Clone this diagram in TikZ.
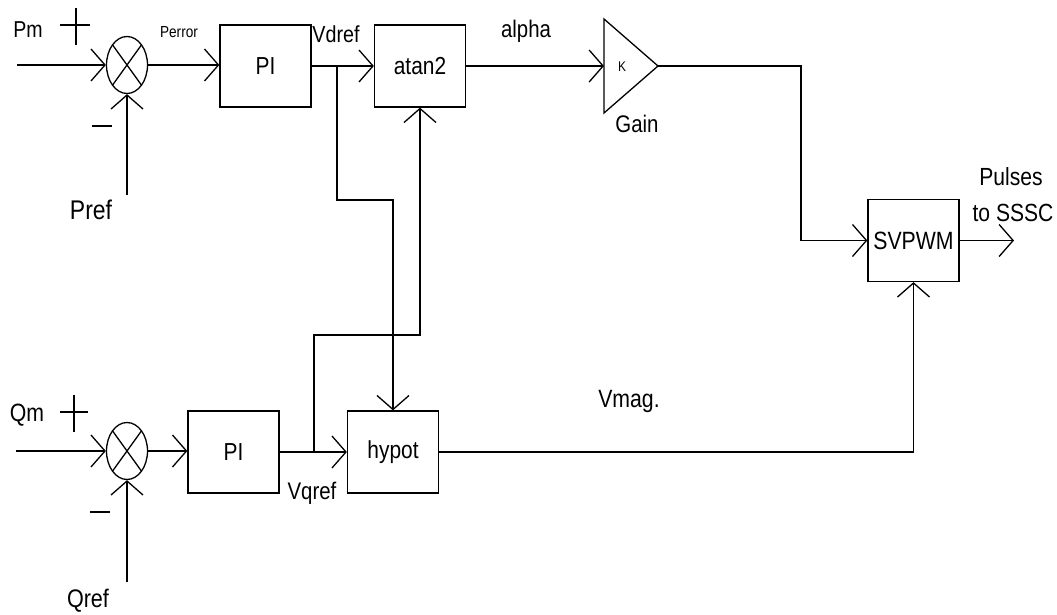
\documentclass[tikz,border=0pt]{standalone}
\usepackage{fontspec}
\setmainfont{Liberation Sans}[FakeStretch=0.85]
\usetikzlibrary{arrows.meta,shapes.geometric}

\begin{document}
\begin{tikzpicture}[
    x=0.5pt, y=-0.5pt, line width=0.65pt,
    sig/.style={-{Straight Barb[length=7pt,width=16pt]}},
    blk/.style={draw, minimum width=45.5pt, minimum height=41pt, inner sep=0pt, font=\fontsize{12.3}{14}\selectfont},
    sumj/.style={ellipse, draw, minimum width=20.5pt, minimum height=28.5pt, inner sep=0pt,
        path picture={\draw (path picture bounding box.north west) -- (path picture bounding box.south east)
            (path picture bounding box.north east) -- (path picture bounding box.south west);}},
    lbl/.style={anchor=base, inner sep=0pt, font=\fontsize{12}{14}\selectfont}
]
    \useasboundingbox (0,0) rectangle (1057,615);

    % P loop
    \node[sumj] (sum1) at (127,65) {};
    \node[blk] (pi1) at (265.5,66) {PI};
    \node[blk] (atan) at (420,66) {atan2};
    \coordinate (pmIn) at (17,65);
    \coordinate (prefIn) at (127,195);
    \coordinate (vdTap) at (337,66);
    \coordinate (vdBend) at (337,200);
    \draw[sig] (pmIn) -- (sum1.west);
    \draw[sig] (prefIn) -- (sum1.south);
    \draw[sig] (sum1.east) -- (sum1.east -| pi1.west);
    \draw[sig] (pi1.east) -- (atan.west);
    \draw (60,25) -- (90,25) (76,8) -- (76,45);
    \draw (92,126) -- (112,126);
    \node[lbl, font=\fontsize{11.5}{13}\selectfont] (pmLbl) at (28,38) {Pm};
    \node[lbl, font=\fontsize{8}{9}\selectfont] (perLbl) at (179,38) {Perror};
    \node[lbl, font=\fontsize{13.5}{15}\selectfont] (prefLbl) at (91,220) {Pref};
    \node[lbl, font=\fontsize{11.6}{13}\selectfont] (vdLbl) at (336,43) {Vdref};

    % Q loop
    \node[sumj] (sum2) at (127,451) {};
    \node[blk] (pi2) at (233.5,452) {PI};
    \node[blk] (hyp) at (393,452) {hypot};
    \coordinate (qmIn) at (16,451);
    \coordinate (qrefIn) at (127,582);
    \coordinate (vqTap) at (314,452);
    \coordinate (vqBend) at (314,335);
    \draw[sig] (qmIn) -- (sum2.west);
    \draw[sig] (qrefIn) -- (sum2.south);
    \draw[sig] (sum2.east) -- (sum2.east -| pi2.west);
    \draw[sig] (pi2.east) -- (hyp.west);
    \draw (60,412) -- (88,412) (74,395) -- (74,432);
    \draw (90,512) -- (110,512);
    \node[lbl, font=\fontsize{12.5}{14}\selectfont] (qmLbl) at (27,422) {Qm};
    \node[lbl, font=\fontsize{12.7}{14}\selectfont] (qrefLbl) at (88,607) {Qref};
    \node[lbl] (vqLbl) at (312,500) {Vqref};

    % cross links
    \draw[sig] (vdTap) -- (vdBend) -| (hyp.north);
    \draw[sig] (vqTap) -- (vqBend) -| (atan.south);

    % gain and modulator
    \coordinate (gIn) at (604,66);
    \coordinate (gOut) at (658,66);
    \coordinate (gTurn) at (801,66);
    \coordinate (pOut) at (1014,240.5);
    \node[blk, font=\fontsize{12.5}{14}\selectfont] (svm) at (913.5,240.5) {SVPWM};
    \draw (604,19) -- (gOut) -- (604,113) -- cycle;
    \draw[sig] (atan.east) -- (gIn);
    \draw[sig] (gOut) -- (gTurn) |- (svm.west);
    \draw[sig] (hyp.east) -| (svm.south);
    \draw[sig] (svm.east) -- (pOut);
    \node[lbl, font=\fontsize{7}{8}\selectfont] (kLbl) at (622,72) {K};
    \node[lbl] (gainLbl) at (637,133) {Gain};
    \node[lbl] (alLbl) at (526,38) {alpha};
    \node[lbl, font=\fontsize{12.5}{14}\selectfont] (vmLbl) at (629,408) {Vmag.};
    \node[lbl, font=\fontsize{12.4}{14}\selectfont] (pulLbl) at (1011,186) {Pulses};
    \node[lbl, font=\fontsize{12.4}{14}\selectfont] (sscLbl) at (1013,222) {to SSSC};
\end{tikzpicture}
\end{document}
